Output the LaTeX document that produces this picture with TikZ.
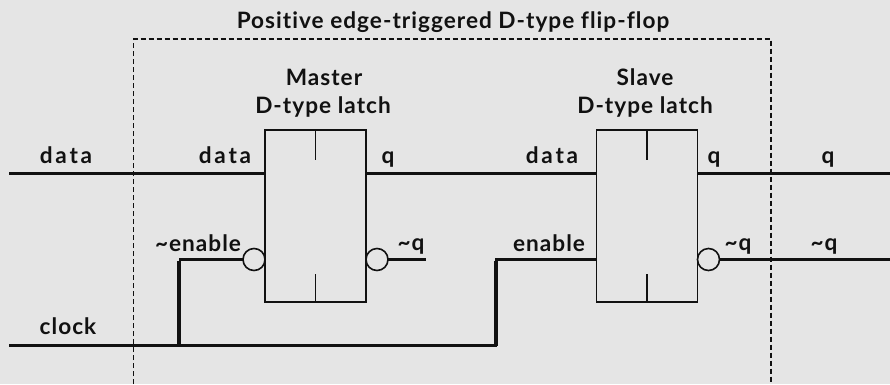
\documentclass[tikz,border=0pt]{standalone}
\usepackage{fontspec}
\setmainfont[LetterSpace=4.5,Ligatures=NoCommon]{Lato}
\definecolor{bgc}{HTML}{E5E5E5}
\definecolor{inkc}{HTML}{111111}
\newcommand{\wideset}{\addfontfeature{LetterSpace=12}}
\tikzset{
  x=1pt,y=-1pt,
  lbl/.style={anchor=base,inner sep=0pt,text=inkc,font=\fontsize{22.6}{22.6}\selectfont\bfseries},
  latch/.style={draw=inkc,line width=1.6pt,minimum width=101pt,minimum height=172pt,inner sep=0pt,outer sep=0pt},
  bub/.style={circle,draw=inkc,line width=1.6pt,minimum size=22pt,inner sep=0pt,outer sep=0pt},
  wire/.style={draw=inkc,line width=2.8pt,line cap=butt,line join=miter},
  thickwire/.style={draw=inkc,line width=3.4pt,line cap=butt,line join=miter},
  tick/.style={draw=inkc,line width=1.4pt},
  frame/.style={draw=inkc,line width=1.4pt,dash pattern=on 5pt off 3pt}
}
\begin{document}
\begin{tikzpicture}
\useasboundingbox[fill=bgc] (0,0) rectangle (890,384);
% latches
\node[latch] (m) at (315.5,216) {};
\node[latch] (s) at (647,216) {};
% bubbles
\node[bub,anchor=east] (mi) at (m.west |- 0,259.5) {};
\node[bub,anchor=west] (mo) at (m.east |- 0,259.5) {};
\node[bub,anchor=west] (so) at (s.east |- 0,259.5) {};
% free ends
\coordinate (dataL) at (9,173.5);
\coordinate (mD) at (m.west |- dataL);
\coordinate (mQ) at (m.east |- dataL);
\coordinate (sD) at (s.west |- dataL);
\coordinate (sQ) at (s.east |- dataL);
\coordinate (qR) at (890,173.5);
\coordinate (clkL) at (9,345.5);
\coordinate (tap) at (179,345.5);
\coordinate (clkE) at (496,345.5);
\coordinate (clkU) at (496,259.5);
\coordinate (tapU) at (179,259.5);
\coordinate (sE) at (s.west |- mi);
\coordinate (nqEnd) at (425.5,259.5);
\coordinate (nqR) at (890,259.5);
\coordinate (mt) at (315.5,160);
\coordinate (mb) at (315.5,274);
\coordinate (st) at (647,160);
\coordinate (sb) at (647,274);
\coordinate (fa) at (133.5,384);
\coordinate (fb) at (133.5,39);
\coordinate (fc) at (771,39);
\coordinate (fd) at (771,384);
% wires
\draw[wire] (dataL) -- (mD);
\draw[wire] (mQ) -- (sD);
\draw[wire] (sQ) -- (qR);
\draw[wire] (clkL) -- (clkE) -- (clkU) -- (sE);
\draw[wire] (tapU) -- (mi.west);
\draw[thickwire] (tap) -- ([yshift=-1.4pt]tapU);
\draw[thickwire] (clkE) -- ([yshift=-1.4pt]clkU);
\draw[wire] (mo.east) -- (nqEnd);
\draw[wire] (so.east) -- (nqR);
% inner ticks
\draw[tick] (m.north) -- (mt);
\draw[tick] (m.south) -- (mb);
\draw[tick] (s.north) -- (st);
\draw[tick] (s.south) -- (sb);
% frame
\draw[frame] (fa) -- (fb) -- (fc) -- (fd);
% labels
\node[lbl] (title) at (453,28) {Positive edge-triggered D-type flip-flop};
\node[lbl] (t1) at (324,85) {Master};
\node[lbl] (t2) at (323,113) {D-type latch};
\node[lbl] (t3) at (645,85) {Slave};
\node[lbl] (t4) at (645,113) {D-type latch};
\node[lbl] (l1) at (66,163) {\wideset data};
\node[lbl] (l2) at (225,163) {\wideset data};
\node[lbl] (l3) at (388,163) {q};
\node[lbl] (l4) at (198,251) {\textasciitilde enable};
\node[lbl] (l5) at (411,250) {\textasciitilde q};
\node[lbl] (l6) at (68,334) {clock};
\node[lbl] (l7) at (552,163) {\wideset data};
\node[lbl] (l8) at (714,163) {q};
\node[lbl] (l9) at (828,163) {q};
\node[lbl] (l10) at (549,251) {enable};
\node[lbl] (l11) at (738,250) {\textasciitilde q};
\node[lbl] (l12) at (824,250) {\textasciitilde q};
\end{tikzpicture}
\end{document}
